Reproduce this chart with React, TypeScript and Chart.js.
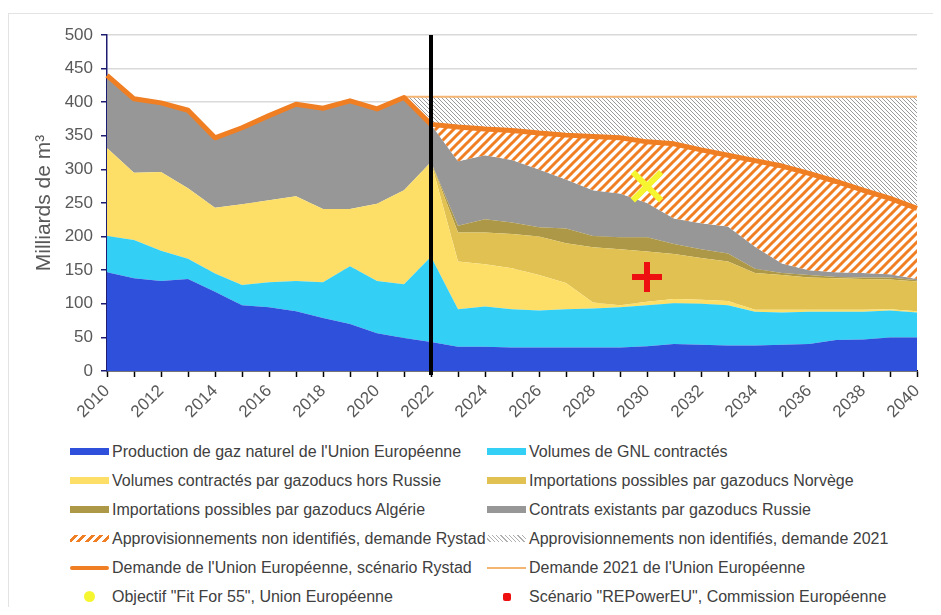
import React, { useEffect, useRef } from 'react';
import { Chart, registerables } from 'chart.js';

Chart.register(...registerables);

// ---------- DATA ----------
const years = [
  '2010', '2011', '2012', '2013', '2014', '2015', '2016', '2017', '2018', '2019', '2020',
  '2021', '2022', '2023', '2024', '2025', '2026', '2027', '2028', '2029', '2030',
  '2031', '2032', '2033', '2034', '2035', '2036', '2037', '2038', '2039', '2040',
];

// Production de gaz naturel de l'UE
const production = [147, 138, 134, 137, 118, 98, 95, 89, 79, 70, 56, 49, 43, 36, 36, 35, 35, 35, 35, 35, 37, 40, 39, 38, 38, 39, 40, 46, 47, 50, 50];
// Volumes de GNL contractés
const gnl = [54, 57, 45, 30, 27, 30, 37, 45, 53, 86, 78, 80, 127, 56, 60, 57, 55, 57, 58, 60, 61, 61, 61, 60, 50, 48, 48, 42, 41, 40, 37];
// Volumes contractés par gazoducs hors Russie
const horsRussie = [131, 100, 117, 105, 98, 120, 122, 126, 109, 85, 115, 140, 141, 71, 63, 61, 53, 39, 9, 3, 5, 6, 6, 6, 3, 4, 3, 3, 3, 2, 2];
// Importations possibles par gazoducs Norvège
const norvege = [0, 0, 0, 0, 0, 0, 0, 0, 0, 0, 0, 0, 0, 43, 47, 51, 57, 59, 82, 83, 75, 67, 62, 59, 55, 52, 48, 47, 46, 44, 44];
// Importations possibles par gazoducs Algérie
const algerie = [0, 0, 0, 0, 0, 0, 0, 0, 0, 0, 0, 0, 0, 10, 20, 17, 14, 22, 17, 18, 21, 15, 13, 12, 6, 3, 4, 2, 2, 3, 2];
// Contrats existants par gazoducs Russie
const russie = [108, 110, 103, 116, 104, 114, 126, 137, 150, 161, 141, 138, 56, 96, 95, 93, 86, 73, 68, 65, 51, 38, 39, 40, 33, 14, 7, 7, 7, 5, 2];
// Demande de l'UE, scénario Rystad
const demandeRystad = [440, 405, 399, 388, 347, 362, 380, 397, 391, 402, 390, 407, 367, 363, 360, 358, 354, 351, 349, 347, 341, 338, 329, 321, 313, 305, 294, 282, 269, 257, 242];
// Demande 2021 de l'UE
const demande2021 = [null, null, null, null, null, null, null, null, null, null, null, 408, 408, 408, 408, 408, 408, 408, 408, 408, 408, 408, 408, 408, 408, 408, 408, 408, 408, 408, 408];

// Objectif "Fit For 55" and scénario "REPowerEU" (year, value)
const fitFor55 = [['2030', 275]];
const repowerEU = [['2030', 140]];

const currentYear = '2022';
const yMin = 0;
const yMax = 500;
const yStep = 50;

// ---------- STYLES ----------
const C_PROD = '#2f50da';
const C_GNL = '#33cff5';
const C_HORS = '#fddf68';
const C_NOR = '#e0c152';
const C_ALG = '#ad9847';
const C_RUS = '#979797';
const C_ORANGE = '#f07e23';
const C_ORANGE_LIGHT = '#f5b572';
const FONT = "'Liberation Sans', Arial, Helvetica, sans-serif";
const TEXT = '#595959';

function pointSeries(points: (string | number)[][]) {
  return years.map((y) => {
    const p = points.find((q) => q[0] === y);
    return p ? (p[1] as number) : null;
  });
}

function makeHatch(size: number, lineWidth: number, color: string, dir: string) {
  const c = document.createElement('canvas');
  c.width = size;
  c.height = size;
  const ctx = c.getContext('2d')!;
  ctx.fillStyle = '#ffffff';
  ctx.fillRect(0, 0, size, size);
  ctx.strokeStyle = color;
  ctx.lineWidth = lineWidth;
  ctx.beginPath();
  if (dir === '/') {
    ctx.moveTo(0, size); ctx.lineTo(size, 0);
    ctx.moveTo(-size / 2, size / 2); ctx.lineTo(size / 2, -size / 2);
    ctx.moveTo(size / 2, size * 1.5); ctx.lineTo(size * 1.5, size / 2);
  } else {
    ctx.moveTo(0, 0); ctx.lineTo(size, size);
    ctx.moveTo(-size / 2, size / 2); ctx.lineTo(size / 2, size * 1.5);
    ctx.moveTo(size / 2, -size / 2); ctx.lineTo(size * 1.5, size / 2);
  }
  ctx.stroke();
  return ctx.createPattern(c, 'repeat');
}

const currentLinePlugin = {
  id: 'currentLine',
  afterDatasetsDraw(chart: any) {
    const { ctx, chartArea } = chart;
    const x = chart.scales.x.getPixelForValue(years.indexOf(currentYear));
    ctx.save();
    ctx.strokeStyle = '#000';
    ctx.lineWidth = 4;
    ctx.beginPath();
    ctx.moveTo(x, chartArea.top);
    ctx.lineTo(x, chartArea.bottom + 4);
    ctx.stroke();
    ctx.restore();
  },
};

type LegendItem = { label: string; kind: string; color: string };
const legendItems: LegendItem[] = [
  { label: "Production de gaz naturel de l'Union Européenne", kind: 'rect', color: C_PROD },
  { label: 'Volumes de GNL contractés', kind: 'rect', color: C_GNL },
  { label: 'Volumes contractés par gazoducs hors Russie', kind: 'rect', color: C_HORS },
  { label: 'Importations possibles par gazoducs Norvège', kind: 'rect', color: C_NOR },
  { label: 'Importations possibles par gazoducs Algérie', kind: 'rect', color: C_ALG },
  { label: 'Contrats existants par gazoducs Russie', kind: 'rect', color: C_RUS },
  { label: 'Approvisionnements non identifiés, demande Rystad', kind: 'hatchOrange', color: C_ORANGE },
  { label: 'Approvisionnements non identifiés, demande 2021', kind: 'hatchGray', color: '#b0b0b0' },
  { label: "Demande de l'Union Européenne, scénario Rystad", kind: 'thick', color: C_ORANGE },
  { label: "Demande 2021 de l'Union Européenne", kind: 'thin', color: C_ORANGE_LIGHT },
  { label: 'Objectif "Fit For 55", Union Européenne', kind: 'circle', color: '#f6f630' },
  { label: 'Scénario "REPowerEU", Commission Européenne', kind: 'square', color: '#ee1010' },
];

function Swatch({ kind, color }: { kind: string; color: string }) {
  const base: React.CSSProperties = { position: 'absolute', left: 0, width: 39 };
  let s: React.CSSProperties = {};
  if (kind === 'rect') s = { ...base, top: 6, height: 7, background: color };
  else if (kind === 'hatchOrange')
    s = { ...base, top: 6, height: 7, background: `repeating-linear-gradient(135deg, #ffffff 0px, #ffffff 3px, ${color} 3px, ${color} 6px)` };
  else if (kind === 'hatchGray')
    s = { ...base, top: 6, height: 7, background: `repeating-linear-gradient(45deg, #ffffff 0px, #ffffff 2px, ${color} 2px, ${color} 3px)` };
  else if (kind === 'thick') s = { ...base, top: 8, height: 4, background: color, borderRadius: 2 };
  else if (kind === 'thin') s = { ...base, top: 9, height: 2, background: color };
  else if (kind === 'circle') s = { position: 'absolute', left: 14, top: 4, width: 11, height: 11, borderRadius: '50%', background: color };
  else if (kind === 'square') s = { position: 'absolute', left: 16, top: 6, width: 8, height: 8, borderRadius: 2, background: color };
  return <div style={s} />;
}

export default function App() {
  const canvasRef = useRef<HTMLCanvasElement | null>(null);

  useEffect(() => {
    const canvas = canvasRef.current;
    if (!canvas) return;
    const hatchOrange = makeHatch(9, 3, C_ORANGE, '/');
    const hatchGray = makeHatch(4, 1, '#9a9a9a', '\\');

    const area = (label: string, data: number[], color: string, fill: any) => ({
      label, data, stack: 'supply', backgroundColor: color, borderWidth: 0,
      pointRadius: 0, pointHoverRadius: 0, fill, order: 10, tension: 0,
    });

    const chart = new Chart(canvas, {
      type: 'line',
      data: {
        labels: years,
        datasets: [
          area(legendItems[0].label, production, C_PROD, 'origin'),
          area(legendItems[1].label, gnl, C_GNL, '-1'),
          area(legendItems[2].label, horsRussie, C_HORS, '-1'),
          area(legendItems[3].label, norvege, C_NOR, '-1'),
          area(legendItems[4].label, algerie, C_ALG, '-1'),
          area(legendItems[5].label, russie, C_RUS, '-1'),
          {
            label: legendItems[8].label, data: demandeRystad, stack: 'rystad',
            borderColor: C_ORANGE, borderWidth: 5, backgroundColor: hatchOrange,
            fill: { target: 5 }, pointRadius: 0, pointHoverRadius: 0, order: 1, tension: 0,
            borderJoinStyle: 'round',
          },
          {
            label: legendItems[9].label, data: demande2021, stack: 'd2021',
            borderColor: C_ORANGE_LIGHT, borderWidth: 2, backgroundColor: hatchGray,
            fill: { target: 6 }, pointRadius: 0, pointHoverRadius: 0, order: 2, tension: 0,
          },
          {
            label: legendItems[10].label, data: pointSeries(fitFor55), stack: 'fit',
            showLine: false, pointStyle: 'crossRot', pointRadius: 20, pointHoverRadius: 20,
            borderColor: '#f6f630', backgroundColor: '#f6f630', pointBorderWidth: 6, order: 0,
          },
          {
            label: legendItems[11].label, data: pointSeries(repowerEU), stack: 'repower',
            showLine: false, pointStyle: 'cross', pointRadius: 15, pointHoverRadius: 15,
            borderColor: '#ee1010', backgroundColor: '#ee1010', pointBorderWidth: 6, order: 0,
          },
        ] as any,
      },
      options: {
        responsive: false,
        animation: false,
        devicePixelRatio: 1,
        events: [],
        layout: { autoPadding: false, padding: { top: 27, right: 16, left: 0, bottom: 0 } },
        plugins: { legend: { display: false }, tooltip: { enabled: false }, title: { display: false } },
        scales: {
          x: {
            type: 'category',
            offset: false,
            grid: { display: true, drawOnChartArea: false, drawTicks: true, tickLength: 6, tickColor: '#000', tickWidth: 1.5 },
            border: { display: true, color: '#000', width: 1.5 },
            ticks: {
              autoSkip: false, maxRotation: 45, minRotation: 45, padding: 4,
              color: TEXT, font: { family: FONT, size: 17 },
              callback: (_v: any, i: number) => (Number(years[i]) % 2 === 0 ? years[i] : ''),
            },
            afterFit: (s: any) => { s.height = 67; s.paddingRight = 0; s.paddingLeft = 0; },
          },
          y: {
            stacked: true,
            min: yMin, max: yMax,
            ticks: { stepSize: yStep, color: TEXT, padding: 8, font: { family: FONT, size: 17 } },
            grid: { color: '#d9d9d9', lineWidth: 1.5, tickColor: '#1c1c70', tickLength: 6, drawTicks: true },
            border: { display: true, color: '#1c1c70', width: 1.5 },
            title: { display: true, text: 'Milliards de m³', color: TEXT, font: { family: FONT, size: 21 }, padding: { top: 24, bottom: 0 } },
            afterFit: (s: any) => { s.width = 99; },
          },
        },
      } as any,
      plugins: [currentLinePlugin],
    });
    return () => chart.destroy();
  }, []);

  const rows = [0, 1, 2, 3, 4, 5];
  return (
    <div style={{ position: 'relative', width: 925, height: 599, fontFamily: FONT }}>
      <div style={{ position: 'absolute', left: 0, top: 5, width: 932, height: 594, borderLeft: '1px solid #e3e3e3', borderTop: '1px solid #e3e3e3' }} />
      <canvas ref={canvasRef} width={925} height={430} style={{ position: 'absolute', left: 0, top: 0, display: 'block' }} />
      {rows.map((r) =>
        [0, 1].map((c) => {
          const item = legendItems[r * 2 + c];
          const left = c === 0 ? 62 : 479;
          return (
            <div key={r * 2 + c} style={{ position: 'absolute', left, top: 434 + 29 * r, height: 20, width: 420 }}>
              <Swatch kind={item.kind} color={item.color} />
              <span style={{ position: 'absolute', left: 42, top: 0, lineHeight: '20px', fontSize: 16, color: '#404040', whiteSpace: 'nowrap' }}>
                {item.label}
              </span>
            </div>
          );
        })
      )}
    </div>
  );
}
